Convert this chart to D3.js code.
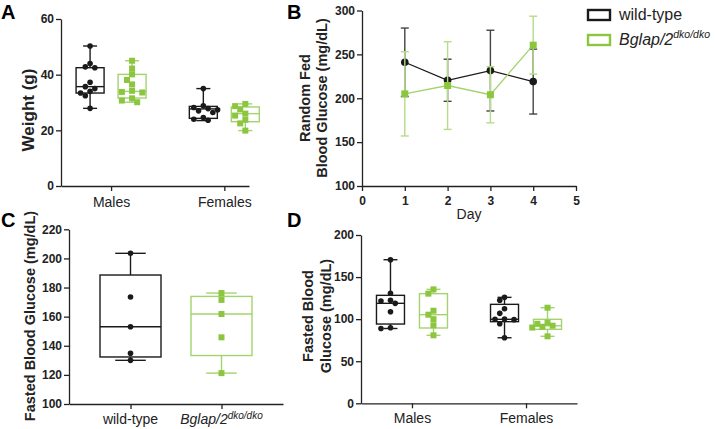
<!DOCTYPE html>
<html>
<head>
<meta charset="utf-8">
<script src="https://cdn.jsdelivr.net/npm/d3@7"></script>
<style>
  body { margin: 0; background: #fff; }
  svg { font-family: "Liberation Sans", Arial, sans-serif; }
  .axis path, .axis line { stroke: #222; stroke-width: 1.3; }
  .axis text { fill: #222; font-weight: bold; font-size: 12px; }
  .cat text { font-weight: normal; font-size: 14px; }
</style>
</head>
<body>
<div id="chart"></div>
<script>
// ---- data ----
var sexes = ['Males', 'Females'];

// A: body weight (g)
var weightWT = [[50.3, 44.0, 42.8, 42.5, 37.3, 35.7, 35.0, 34.0, 33.4, 32.4, 27.9],
                [35.0, 28.8, 28.2, 27.8, 27.4, 27.0, 26.4, 24.6, 24.0, 23.6]];
var weightKO = [[45.0, 42.2, 40.1, 38.1, 36.5, 34.2, 33.8, 33.6, 31.5, 30.7, 30.1],
                [29.5, 28.7, 27.5, 26.0, 25.3, 23.8, 22.5, 19.9]];
// min, q1, median, q3, max
var weightWTBox = [[27.9, 33.4, 35.7, 42.5, 50.3], [23.5, 24.3, 27.7, 28.6, 35.0]];
var weightKOBox = [[30.1, 31.6, 34.0, 40.1, 45.0], [19.9, 23.1, 26.0, 28.4, 29.5]];

// B: random fed glucose, mean +/- sd
var days = [1, 2, 3, 4];
var randomWTMean = [241, 220.5, 231.5, 219];
var randomWTSd = [39, 24, 46, 37];
var randomKOMean = [205, 214.5, 204, 260.5];
var randomKOSd = [48, 50, 32, 33];

// C: fasted glucose by genotype
var genotypes = ['wild-type', 'Bglap/2'];
var fastedWT = [203.5, 173.5, 153.1, 134.8, 130.0];
var fastedKO = [176.2, 171.5, 161.8, 145.8, 121.2];
var fastedWTBox = [130.0, 132.3, 153.1, 188.6, 203.5];
var fastedKOBox = [121.2, 133.3, 161.8, 173.9, 176.2];

// D: fasted glucose by sex
var fastedSexWT = [[170.6, 130.7, 122.5, 121.5, 118.8, 108.8, 89.8, 88.9],
                   [125.9, 122.5, 112.4, 106.9, 100.2, 99.8, 99.4, 94.6, 77.9]];
var fastedSexKO = [[135.4, 130.3, 110.0, 105.3, 100.0, 92.7, 80.8],
                   [113.6, 95.8, 94.5, 92.2, 91.0, 90.0, 79.6]];
var fastedSexWTBox = [[88.9, 94.2, 118.8, 128.3, 170.6], [77.9, 97.0, 99.8, 117.6, 125.9]];
var fastedSexKOBox = [[80.8, 89.5, 105.3, 130.3, 135.4], [79.6, 87.9, 92.2, 99.8, 113.6]];

var black = '#1a1a1a',
    greenLine = '#a3d36e',
    greenDot = '#8cc63f',
    greenBar = '#b5dc86';

var svg = d3.select('#chart').append('svg')
    .attr('width', 715)
    .attr('height', 429);

// spread points sideways where they would overlap
function dodge(values, y, r) {
    var placed = [];
    return values.map(function(v) {
        var py = y(v), steps = [0, -1, 1, -2, 2, -3, 3], px = 0;
        for (var i = 0; i < steps.length; i++) {
            px = steps[i] * r * 1.7;
            var hit = placed.some(function(p) {
                return Math.hypot(p.x - px, p.y - py) < r * 1.9;
            });
            if (!hit) break;
        }
        placed.push({ x: px, y: py });
        return { value: v, dx: px };
    });
}

function drawBox(g, cx, stats, values, y, w, color, dotColor, square) {
    var b = g.append('g')
        .attr('fill', 'none')
        .attr('stroke', color)
        .attr('stroke-width', 1.4);
    var cap = w / 2;
    b.append('line').attr('x1', cx).attr('x2', cx).attr('y1', y(stats[0])).attr('y2', y(stats[1]));
    b.append('line').attr('x1', cx).attr('x2', cx).attr('y1', y(stats[3])).attr('y2', y(stats[4]));
    b.append('line').attr('x1', cx - cap / 2).attr('x2', cx + cap / 2).attr('y1', y(stats[0])).attr('y2', y(stats[0]));
    b.append('line').attr('x1', cx - cap / 2).attr('x2', cx + cap / 2).attr('y1', y(stats[4])).attr('y2', y(stats[4]));
    b.append('rect')
        .attr('x', cx - w / 2).attr('width', w)
        .attr('y', y(stats[3])).attr('height', y(stats[1]) - y(stats[3]));
    b.append('line').attr('x1', cx - w / 2).attr('x2', cx + w / 2).attr('y1', y(stats[2])).attr('y2', y(stats[2]));

    var pts = dodge(values, y, square ? 3 : 2.8);
    if (square) {
        g.selectAll(null).data(pts).enter().append('rect')
            .attr('x', function(d) { return cx + d.dx - 3; })
            .attr('y', function(d) { return y(d.value) - 3; })
            .attr('width', 6).attr('height', 6)
            .attr('fill', dotColor);
    } else {
        g.selectAll(null).data(pts).enter().append('circle')
            .attr('cx', function(d) { return cx + d.dx; })
            .attr('cy', function(d) { return y(d.value); })
            .attr('r', 2.8)
            .attr('fill', dotColor);
    }
}

function yAxis(g, x, y, ticks) {
    g.append('g')
        .attr('class', 'axis')
        .attr('transform', 'translate(' + x + ',0)')
        .call(d3.axisLeft(y).tickValues(ticks).tickSize(5).tickSizeOuter(0).tickPadding(2));
}

function yLabel(lines, x, cy, size) {
    lines.forEach(function(t, i) {
        svg.append('text')
            .attr('transform', 'translate(' + x[i] + ',' + cy + ') rotate(-90)')
            .attr('text-anchor', 'middle')
            .attr('font-weight', 'bold')
            .attr('font-size', size)
            .attr('fill', '#222')
            .text(t);
    });
}

function panelLetter(t, x, y) {
    svg.append('text').attr('x', x).attr('y', y)
        .attr('font-weight', 'bold').attr('font-size', 20)
        .text(t);
}

// ---------- A ----------
var ax = d3.scalePoint().domain(sexes).range([61, 249]).padding(0.33).align(0.67),
    ay = d3.scaleLinear().domain([0, 60]).range([186, 19]);
var gA = svg.append('g');
yAxis(gA, 61, ay, [0, 20, 40, 60]);
gA.append('g').attr('class', 'axis cat')
    .attr('transform', 'translate(0,186)')
    .call(d3.axisBottom(ax).tickSize(5).tickSizeOuter(0).tickPadding(6));
sexes.forEach(function(s, i) {
    drawBox(gA, ax(s) - 21, weightWTBox[i], weightWT[i], ay, 28, black, black, false);
    drawBox(gA, ax(s) + 21, weightKOBox[i], weightKO[i], ay, 28, greenLine, greenDot, true);
});
yLabel(['Weight (g)'], [34], 110, 17);
panelLetter('A', 1, 19);

// ---------- B ----------
var bx = d3.scaleLinear().domain([0, 5]).range([362, 576]),
    by = d3.scaleLinear().domain([100, 300]).range([186, 10.5]);
var gB = svg.append('g');
yAxis(gB, 362, by, [100, 150, 200, 250, 300]);
gB.append('g').attr('class', 'axis')
    .attr('transform', 'translate(0,186)')
    .call(d3.axisBottom(bx).ticks(5).tickSize(5).tickSizeOuter(0).tickPadding(5));
gB.append('text').attr('x', bx(2.5)).attr('y', 219)
    .attr('text-anchor', 'middle').attr('font-size', 14).attr('fill', '#222')
    .text('Day');

function series(means, sds, barColor, lineColor, dotColor, square) {
    var rows = days.map(function(d, i) { return { day: d, mean: means[i], sd: sds[i] }; });
    var eb = gB.append('g').attr('stroke', barColor).attr('stroke-width', 1.4);
    eb.selectAll(null).data(rows).enter().append('line')
        .attr('x1', function(d) { return bx(d.day); })
        .attr('x2', function(d) { return bx(d.day); })
        .attr('y1', function(d) { return by(d.mean - d.sd); })
        .attr('y2', function(d) { return by(d.mean + d.sd); });
    [-1, 1].forEach(function(s) {
        eb.selectAll(null).data(rows).enter().append('line')
            .attr('x1', function(d) { return bx(d.day) - 4; })
            .attr('x2', function(d) { return bx(d.day) + 4; })
            .attr('y1', function(d) { return by(d.mean + s * d.sd); })
            .attr('y2', function(d) { return by(d.mean + s * d.sd); });
    });
    gB.append('path').datum(rows)
        .attr('fill', 'none').attr('stroke', lineColor).attr('stroke-width', 1.3)
        .attr('d', d3.line().x(function(d) { return bx(d.day); }).y(function(d) { return by(d.mean); }));
    if (square) {
        gB.selectAll(null).data(rows).enter().append('rect')
            .attr('x', function(d) { return bx(d.day) - 3.5; })
            .attr('y', function(d) { return by(d.mean) - 3.5; })
            .attr('width', 7).attr('height', 7).attr('fill', dotColor);
    } else {
        gB.selectAll(null).data(rows).enter().append('circle')
            .attr('cx', function(d) { return bx(d.day); })
            .attr('cy', function(d) { return by(d.mean); })
            .attr('r', 3.8).attr('fill', dotColor);
    }
}
series(randomWTMean, randomWTSd, '#444', black, black, false);
series(randomKOMean, randomKOSd, greenBar, greenLine, greenDot, true);
yLabel(['Random Fed', 'Blood Glucose (mg/dL)'], [310, 327], 98, 14.5);
panelLetter('B', 287, 19);

// legend
var legend = svg.append('g').attr('transform', 'translate(587,9)');
[[black, 'wild-type'], [greenDot, 'Bglap/2']].forEach(function(item, i) {
    legend.append('rect')
        .attr('x', 1).attr('y', i * 25 + 1).attr('width', 22).attr('height', 10)
        .attr('fill', 'none').attr('stroke', item[0]).attr('stroke-width', 2.4);
    var t = legend.append('text')
        .attr('x', 32).attr('y', i * 25 + 11)
        .attr('font-size', 16).attr('fill', '#222');
    if (i === 0) {
        t.text(item[1]);
    } else {
        t.append('tspan').attr('font-style', 'italic').text(item[1]);
        t.append('tspan').attr('font-style', 'italic').attr('font-size', 10.5)
            .attr('dy', -7).text('dko/dko');
    }
});

// ---------- C ----------
var cx = d3.scalePoint().domain(genotypes).range([69, 283]).padding(0.676),
    cy = d3.scaleLinear().domain([100, 220]).range([404, 229.3]);
var gC = svg.append('g');
yAxis(gC, 69, cy, [100, 120, 140, 160, 180, 200, 220]);
var cAxis = gC.append('g').attr('class', 'axis cat')
    .attr('transform', 'translate(0,404)')
    .call(d3.axisBottom(cx).tickSize(5).tickSizeOuter(0).tickFormat(''));
cAxis.append('text').attr('x', cx('wild-type')).attr('y', 424)
    .attr('transform', 'translate(0,-404)')
    .attr('text-anchor', 'middle').attr('font-size', 13).attr('fill', '#222')
    .text('wild-type');
var kt = cAxis.append('text').attr('x', cx('Bglap/2')).attr('y', 424)
    .attr('transform', 'translate(0,-404)')
    .attr('text-anchor', 'middle').attr('font-size', 13).attr('fill', '#222')
    .attr('font-style', 'italic');
kt.append('tspan').text('Bglap/2');
kt.append('tspan').attr('font-size', 10).attr('dy', -5).text('dko/dko');
drawBox(gC, cx('wild-type'), fastedWTBox, fastedWT, cy, 61, black, black, false);
drawBox(gC, cx('Bglap/2'), fastedKOBox, fastedKO, cy, 61, greenLine, greenDot, true);
yLabel(['Fasted Blood Glucose (mg/dL)'], [35], 316, 14.5);
panelLetter('C', 1, 227);

// ---------- D ----------
var dx = d3.scalePoint().domain(sexes).range([361, 577]).padding(0.447),
    dy = d3.scaleLinear().domain([0, 200]).range([403.3, 235]);
var gD = svg.append('g');
yAxis(gD, 361, dy, [0, 50, 100, 150, 200]);
gD.append('g').attr('class', 'axis cat')
    .attr('transform', 'translate(0,403.3)')
    .call(d3.axisBottom(dx).tickSize(5).tickSizeOuter(0).tickPadding(5));
sexes.forEach(function(s, i) {
    drawBox(gD, dx(s) - 21.5, fastedSexWTBox[i], fastedSexWT[i], dy, 28, black, black, false);
    drawBox(gD, dx(s) + 21.5, fastedSexKOBox[i], fastedSexKO[i], dy, 28, greenLine, greenDot, true);
});
yLabel(['Fasted Blood', 'Glucose (mg/dL)'], [313, 331], 316, 14.5);
panelLetter('D', 287, 227);
</script>
</body>
</html>
